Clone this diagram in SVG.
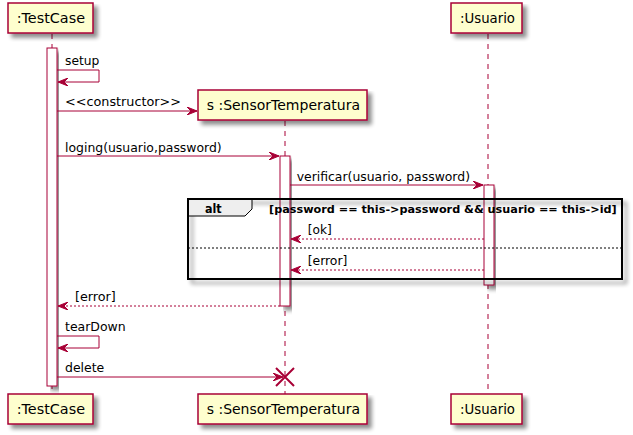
<svg xmlns="http://www.w3.org/2000/svg" width="633" height="435" viewBox="0 0 633 435">
<defs>
<filter id="sh" x="-10%" y="-10%" width="130%" height="140%">
<feGaussianBlur in="SourceAlpha" stdDeviation="2"/>
<feOffset dx="4" dy="4" result="b"/>
<feComponentTransfer><feFuncA type="linear" slope="0.45"/></feComponentTransfer>
<feMerge><feMergeNode/><feMergeNode in="SourceGraphic"/></feMerge>
</filter>
<marker id="ah" viewBox="0 0 10 8" refX="10" refY="4" markerWidth="10" markerHeight="8" markerUnits="userSpaceOnUse" orient="auto">
<polygon points="0,0 10,4 0,8 4,4" fill="#A80036" stroke="#A80036" stroke-width="1"/>
</marker>
</defs>
<style>
.box{fill:#FEFECE;stroke:#A80036;stroke-width:1.5}
.act{fill:#FFFFFF;stroke:#A80036;stroke-width:1}
.life{stroke:#A80036;stroke-width:1;stroke-dasharray:5,5;fill:none}
.msg{stroke:#A80036;stroke-width:1;fill:none}
.ret{stroke:#A80036;stroke-width:1;fill:none;stroke-dasharray:2,2}
.pt{font-family:"DejaVu Sans",sans-serif;font-size:14px;fill:#000}
.mt{font-family:"DejaVu Sans",sans-serif;font-size:13px;fill:#000}
</style>
<rect width="633" height="435" fill="#FFFFFF"/>
<g id="lifelines">
<line class="life" x1="52" y1="34" x2="52" y2="394"/>
<line class="life" x1="285" y1="121" x2="285" y2="394"/>
<line class="life" x1="488" y1="34" x2="488" y2="394"/>
</g>
<g id="activations">
<rect class="act" x="47" y="48" width="10" height="338" filter="url(#sh)"/>
<rect class="act" x="280" y="156" width="10" height="150" filter="url(#sh)"/>
<rect class="act" x="484" y="185" width="10" height="100" filter="url(#sh)"/>
</g>
<g id="alt-frame">
<rect x="188" y="199" width="434" height="80" fill="none" stroke="#000" stroke-width="2" filter="url(#sh)"/>
<polygon points="188,199 252,199 252,209 245,216 188,216" fill="#EEEEEE" stroke="#000" stroke-width="1"/>
<rect x="188" y="199" width="434" height="80" fill="none" stroke="#000" stroke-width="2"/>
<text x="205" y="212.5" font-family="'DejaVu Sans',sans-serif" font-size="13" font-weight="bold" textLength="16.7" lengthAdjust="spacingAndGlyphs">alt</text>
<text x="269" y="212.5" font-family="'DejaVu Sans',sans-serif" font-size="11" font-weight="bold" textLength="347.7" lengthAdjust="spacingAndGlyphs">[password == this-&gt;password &amp;&amp; usuario == this-&gt;id]</text>
<line x1="188" y1="248" x2="622" y2="248" stroke="#000" stroke-width="1" stroke-dasharray="2,2"/>
</g>
<g id="TestCase-top"><rect class="box" x="8" y="3" width="85" height="30" filter="url(#sh)"/><text class="pt" x="16.7" y="23" textLength="68.3" lengthAdjust="spacingAndGlyphs">:TestCase</text></g>
<g id="TestCase-bottom"><rect class="box" x="8" y="394" width="85" height="30" filter="url(#sh)"/><text class="pt" x="16.7" y="414" textLength="68.3" lengthAdjust="spacingAndGlyphs">:TestCase</text></g>
<g id="Sensor-top"><rect class="box" x="198" y="90" width="169" height="30" filter="url(#sh)"/><text class="pt" x="206.7" y="110" textLength="153.3" lengthAdjust="spacingAndGlyphs">s :SensorTemperatura</text></g>
<g id="Sensor-bottom"><rect class="box" x="198" y="394" width="169" height="30" filter="url(#sh)"/><text class="pt" x="206.7" y="414" textLength="153.3" lengthAdjust="spacingAndGlyphs">s :SensorTemperatura</text></g>
<g id="Usuario-top"><rect class="box" x="451" y="3" width="71" height="30" filter="url(#sh)"/><text class="pt" x="460" y="23" textLength="55" lengthAdjust="spacingAndGlyphs">:Usuario</text></g>
<g id="Usuario-bottom"><rect class="box" x="451" y="394" width="71" height="30" filter="url(#sh)"/><text class="pt" x="460" y="414" textLength="55" lengthAdjust="spacingAndGlyphs">:Usuario</text></g>
<g id="connectors">
<polyline class="msg" points="57,70 99,70 99,82 58,82" marker-end="url(#ah)"/>
<text class="mt" x="65" y="64.5" textLength="34.3" lengthAdjust="spacingAndGlyphs">setup</text>
<line class="msg" x1="57" y1="111" x2="197" y2="111" marker-end="url(#ah)"/>
<text class="mt" x="65" y="106" textLength="116" lengthAdjust="spacingAndGlyphs">&lt;&lt;constructor&gt;&gt;</text>
<line class="msg" x1="57" y1="156" x2="279" y2="156" marker-end="url(#ah)"/>
<text class="mt" x="65" y="151.5" textLength="156.7" lengthAdjust="spacingAndGlyphs">loging(usuario,password)</text>
<line class="msg" x1="290" y1="185" x2="483" y2="185" marker-end="url(#ah)"/>
<text class="mt" x="296.7" y="180.5" textLength="173.3" lengthAdjust="spacingAndGlyphs">verificar(usuario, password)</text>
<line class="ret" x1="484" y1="239" x2="291" y2="239" marker-end="url(#ah)"/>
<text class="mt" x="307.7" y="234" textLength="24" lengthAdjust="spacingAndGlyphs">[ok]</text>
<line class="ret" x1="484" y1="270" x2="291" y2="270" marker-end="url(#ah)"/>
<text class="mt" x="307.7" y="265" textLength="39.7" lengthAdjust="spacingAndGlyphs">[error]</text>
<line class="ret" x1="280" y1="306" x2="58" y2="306" marker-end="url(#ah)"/>
<text class="mt" x="75" y="300.5" textLength="40.7" lengthAdjust="spacingAndGlyphs">[error]</text>
<polyline class="msg" points="57,336 99,336 99,348 58,348" marker-end="url(#ah)"/>
<text class="mt" x="65" y="330.5" textLength="60.7" lengthAdjust="spacingAndGlyphs">tearDown</text>
<line class="msg" x1="57" y1="377" x2="283" y2="377" marker-end="url(#ah)"/>
<text class="mt" x="65" y="372" textLength="39.3" lengthAdjust="spacingAndGlyphs">delete</text>
<path d="M276,368 L294,386 M276,386 L294,368" stroke="#A80036" stroke-width="2" fill="none"/>
</g>
</svg>
